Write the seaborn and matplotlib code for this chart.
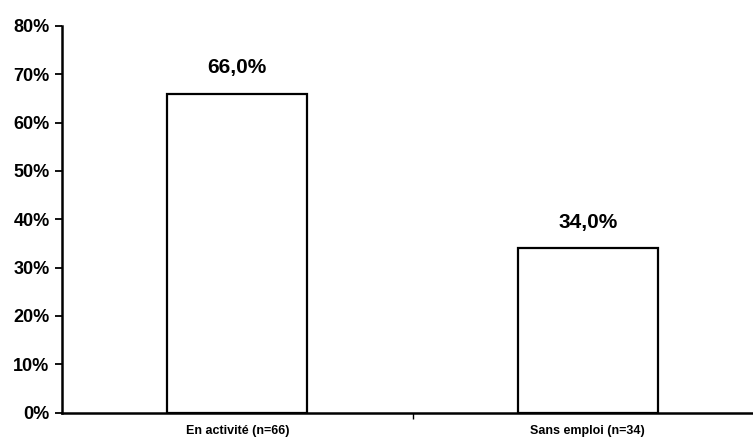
import matplotlib
matplotlib.use("Agg")
import matplotlib.pyplot as plt
import seaborn as sns
import pandas as pd
from matplotlib.ticker import FuncFormatter

categories = ["En activité (n=66)", "Sans emploi (n=34)"]
values = [66.0, 34.0]
value_labels = ["66,0%", "34,0%"]
y_ticks = [0, 10, 20, 30, 40, 50, 60, 70, 80]

sns.set_theme(style="white")
plt.rcParams["font.family"] = ["Liberation Sans", "DejaVu Sans"]
plt.rcParams["text.color"] = "black"
plt.rcParams["xtick.color"] = "black"
plt.rcParams["ytick.color"] = "black"

df = pd.DataFrame({"statut": categories, "pct": values})

fig = plt.figure(figsize=(7.53, 4.41), dpi=100)
ax = fig.add_axes([62 / 753, 28.5 / 441, 701 / 753, 386.5 / 441])

sns.barplot(data=df, x="statut", y="pct", ax=ax, width=0.4,
            color="white", edgecolor="black", linewidth=1.6, saturation=1)

ax.set_xlim(-0.5, 1.5)
ax.set_ylim(0, 80)
ax.set_yticks(y_ticks)
ax.yaxis.set_major_formatter(FuncFormatter(lambda v, _: f"{v:.0f}%"))
ax.tick_params(axis="y", direction="out", length=5, width=1.3, colors="black",
               labelsize=13, pad=4, left=True)
for lbl in ax.get_yticklabels():
    lbl.set_fontweight("bold")

# category separator tick between the two groups
ax.set_xticks([0, 1])
ax.set_xticklabels(categories, fontsize=9, fontweight="bold")
ax.tick_params(axis="x", length=0, pad=9)
ax.set_xticks([0.5], minor=True)
ax.tick_params(axis="x", which="minor", direction="out", length=4, width=1.0,
               bottom=True, colors="black")

ax.set_xlabel("")
ax.set_ylabel("")
for side in ["top", "right"]:
    ax.spines[side].set_visible(False)
for side in ["left", "bottom"]:
    ax.spines[side].set_color("black")
    ax.spines[side].set_linewidth(1.8)

for i, (v, txt) in enumerate(zip(values, value_labels)):
    ax.annotate(txt, (i, v), xytext=(0, 12), textcoords="offset points",
                ha="center", va="bottom", fontsize=15, fontweight="bold",
                color="black")

fig.savefig("out.png", dpi=100)
